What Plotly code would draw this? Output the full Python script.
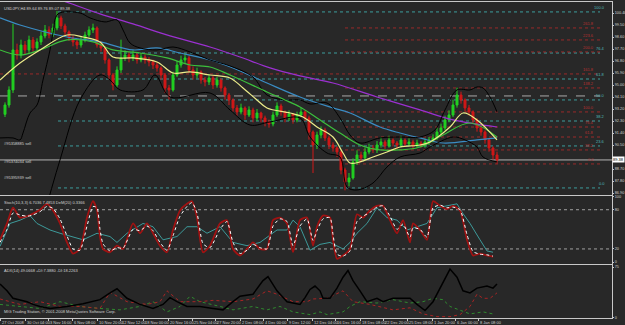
import plotly.graph_objects as go

# ---------------- data ----------------
closes = [93.50, 94.63, 97.63, 97.25, 98.00, 97.63, 98.38, 97.78, 98.23, 98.68,
          99.13, 98.75, 99.28, 100.03, 99.43, 98.98, 98.53, 98.23, 98.00, 98.38,
          98.75, 99.13, 99.28, 98.00, 97.78, 96.88, 95.75, 95.00, 96.13, 97.03,
          97.25, 97.03, 97.25, 96.88, 97.10, 96.88, 96.73, 96.50, 96.28, 95.75,
          94.78, 94.63, 95.75, 96.50, 96.88, 97.03, 96.13, 95.75, 95.98, 95.38,
          95.23, 95.53, 95.00, 95.38, 94.78, 94.25, 93.88, 93.28, 92.98, 93.28,
          92.75, 93.13, 92.53, 92.90, 92.53, 92.23, 92.08, 92.75, 93.43, 92.98,
          92.53, 92.83, 92.38, 92.75, 92.98, 92.53, 91.48, 90.50, 91.25, 91.63,
          91.03, 90.50, 90.28, 89.98, 88.63, 87.73, 88.03, 89.23, 89.75, 89.53,
          89.98, 90.28, 90.13, 90.50, 90.73, 90.43, 90.88, 90.65, 90.50, 90.88,
          90.58, 90.73, 90.43, 90.65, 90.50, 90.73, 90.88, 91.03, 91.48, 91.78,
          92.38, 92.75, 93.50, 94.25, 93.88, 93.28, 92.98, 92.38, 91.78, 91.48,
          90.88, 90.28, 89.75, 89.38]
highs = [93.70, 94.90, 99.60, 98.10, 98.40, 98.30, 98.70, 98.60, 98.50, 99.00,
         99.50, 99.40, 99.60, 100.55, 100.20, 99.60, 99.10, 98.70, 98.40, 98.60,
         99.00, 99.40, 99.60, 99.40, 98.30, 97.90, 97.00, 95.90, 96.40, 98.40,
         97.60, 97.50, 97.60, 97.40, 97.40, 97.30, 97.10, 96.90, 96.70, 96.40,
         95.90, 95.00, 96.00, 96.80, 97.20, 97.40, 97.20, 96.40, 96.30, 96.10,
         95.60, 95.80, 95.70, 95.60, 95.50, 94.90, 94.40, 94.00, 93.50, 93.60,
         93.40, 93.40, 93.30, 93.20, 93.00, 92.70, 92.40, 93.00, 93.70, 93.60,
         93.10, 93.10, 92.90, 93.00, 93.30, 93.10, 92.70, 91.60, 91.50, 91.90,
         91.80, 91.20, 90.70, 90.40, 90.10, 88.80, 88.40, 89.50, 90.10, 90.00,
         90.30, 90.60, 90.50, 90.80, 91.10, 90.90, 91.20, 91.00, 90.80, 91.20,
         91.00, 91.00, 90.90, 90.90, 90.80, 91.00, 91.10, 91.30, 91.80, 92.10,
         92.70, 93.10, 93.90, 94.80, 94.50, 94.00, 93.50, 93.10, 92.50, 92.00,
         91.60, 91.00, 90.40, 90.00]
lows = [92.60, 93.30, 94.40, 96.90, 97.00, 97.30, 97.40, 97.50, 97.60, 98.00,
        98.50, 98.50, 98.60, 99.10, 99.20, 98.70, 98.30, 97.90, 97.70, 97.80,
        98.20, 98.60, 98.90, 97.80, 97.50, 96.60, 95.40, 94.60, 94.80, 95.90,
        96.80, 96.70, 96.80, 96.60, 96.70, 96.60, 96.40, 96.20, 96.00, 95.40,
        94.40, 93.90, 94.50, 95.60, 96.30, 96.60, 95.90, 95.40, 95.50, 95.10,
        94.90, 95.00, 94.70, 94.80, 94.50, 93.90, 93.50, 93.00, 92.70, 92.80,
        92.40, 92.60, 92.20, 92.30, 92.20, 91.90, 91.80, 91.90, 92.60, 92.70,
        92.20, 92.30, 92.10, 92.20, 92.60, 92.30, 90.90, 88.40, 90.20, 91.00,
        90.80, 90.20, 90.00, 89.60, 88.30, 87.10, 87.40, 87.90, 89.00, 89.20,
        89.30, 89.80, 89.90, 89.90, 90.30, 90.20, 90.30, 90.40, 90.20, 90.30,
        90.40, 90.40, 90.20, 90.30, 90.30, 90.30, 90.50, 90.70, 90.90, 91.30,
        91.60, 92.20, 92.60, 93.30, 93.60, 93.00, 92.70, 92.10, 91.50, 91.20,
        90.60, 90.00, 89.40, 89.10]
first_open = 92.80

# moving averages / bands (bar index, price)
ma_purple_bar = [6.25, 13.75, 23.75, 32, 41.25, 51.25, 58.75, 66.25, 73.75, 82, 93, 103.75, 112, 123]
ma_purple = [101.98, 101.38, 100.33, 99.58, 98.68, 97.85, 97.10, 96.28, 95.68, 95.15, 94.10, 93.13, 92.38, 91.85]
ma_blue_bar = [-1.25, 3.75, 15.5, 23.75, 32, 38, 43.75, 51.25, 57, 65.5, 73.75, 82, 86.25, 93.75, 98.75, 103.75, 109.5, 118, 123]
ma_blue = [100.03, 99.50, 98.60, 98.23, 97.63, 97.78, 97.40, 96.88, 96.28, 95.15, 94.10, 93.28, 92.90, 91.85, 91.40, 91.03, 90.65, 90.88, 91.03]
ma_green_bar = [-1.25, 3.75, 8.75, 15.5, 22, 27, 33.75, 40.5, 46.25, 51.25, 56.25, 65.5, 70, 73.75, 78, 83.75, 88.75, 93.75, 98.75, 103.75, 109.5, 116.25, 123]
ma_green = [97.63, 97.25, 97.63, 98.38, 98.23, 97.63, 97.40, 97.03, 96.50, 96.35, 95.75, 94.48, 93.88, 93.35, 92.53, 91.40, 90.50, 90.13, 90.13, 90.35, 91.25, 92.15, 91.10]
ma_yellow_bar = [-1.25, 3.75, 8.75, 15.5, 19.5, 23.75, 27, 32, 38, 42, 46.25, 51.25, 56.25, 59.5, 63, 65.5, 71.25, 74.5, 78, 82, 84.5, 86.25, 88.75, 92, 95.5, 98.75, 103.75, 106.25, 111.25, 114.5, 118, 123]
ma_yellow = [95.38, 96.65, 97.63, 98.75, 98.60, 98.23, 97.10, 97.03, 96.73, 95.90, 95.98, 95.75, 95.53, 94.78, 93.88, 93.28, 92.90, 92.60, 91.85, 91.10, 89.90, 89.15, 89.23, 89.60, 89.98, 90.35, 90.50, 90.73, 91.85, 92.90, 92.38, 90.88]
bb_upper_bar = [-1.25, 2, 3.75, 4.5, 6.25, 8, 9.5, 11.25, 12, 13.25, 18.75, 21.25, 25, 28, 29.5, 31.25, 33.75, 38, 42, 46.25, 51.25, 56.25, 62, 65.5, 70, 73.75, 76.25, 80.5, 83.75, 86.25, 88.75, 93.75, 98.75, 103.75, 107.5, 110, 113, 116.25, 118, 119.5, 121.25, 123]
bb_upper = [91.03, 91.03, 90.88, 91.40, 92.90, 93.50, 95.38, 97.63, 98.90, 100.33, 100.40, 100.03, 99.73, 99.88, 99.13, 98.15, 97.78, 97.63, 97.85, 97.48, 96.88, 96.43, 95.60, 94.25, 93.88, 93.88, 93.58, 93.65, 92.53, 91.25, 90.65, 91.03, 91.10, 91.10, 91.63, 93.13, 94.63, 94.63, 94.85, 94.78, 94.10, 92.98]
bb_lower_bar = [8.75, 13.75, 18.75, 23.75, 26.25, 28.75, 34.5, 37.5, 41.25, 51.25, 56.25, 61.25, 66.25, 73.75, 76.25, 80.5, 83.75, 85.5, 88, 92, 95.5, 98.75, 103.75, 106.25, 112, 115, 118, 119.5, 123]
bb_lower = [84.13, 89.38, 93.88, 95.75, 95.38, 94.63, 94.63, 95.75, 94.10, 94.40, 93.13, 92.00, 92.23, 92.53, 91.10, 89.90, 89.60, 87.35, 87.13, 87.65, 88.85, 89.60, 89.90, 90.35, 91.10, 90.88, 90.35, 89.60, 89.23]

# horizontal levels (price)
teal_levels = [100.48, 97.40, 95.45, 93.88, 92.30, 90.43, 87.28]
teal_labels = ["100.0", "76.4", "61.8", "50.0", "38.2", "23.6", "0.0"]
red_levels = [99.28, 98.38, 97.48, 95.83, 94.78, 92.98, 91.85, 91.10, 90.13, 89.08]
red_labels = ["261.8", "223.6", "200.0", "161.8", "138.2", "100.0", "76.4", "61.8", "38.2", "0.0"]
dashed_level = 94.18
bid_price = 89.38

# stochastic / DeMarker
stoch_bar = [-1.25, 0.5, 2, 3.75, 5.5, 7, 8.75, 10.5, 12, 13.75, 15.5, 17, 18.75, 20.5, 22, 23, 23.75, 24.5, 26.25, 28,
             29.5, 32, 33.75, 35.5, 37, 38.75, 40.5, 42, 43.75, 45.5, 46.75, 48, 49.5, 51.25, 53.75, 55.5, 57, 58.75, 60.5, 62,
             63.75, 65.5, 67, 68.75, 70.5, 72, 73.75, 75.5, 77, 78, 79.5, 81.25, 82, 83, 84.5, 86.25, 88, 89.5, 91.25, 93,
             94.5, 96.25, 98, 99.5, 101.25, 102, 103.75, 105.5, 107, 108.75, 110.5, 112, 113.75, 115.5, 117, 118.75, 120.5, 122]
stoch_k = [34, 59, 83, 68, 70, 74, 80, 89, 79, 59, 30, 13, 20, 68, 93, 79, 39, 20, 15, 25,
           20, 59, 44, 59, 44, 25, 15, 49, 79, 89, 93, 68, 15, 25, 59, 64, 20, 10, 20, 30,
           20, 20, 64, 68, 59, 15, 64, 68, 25, 54, 71, 68, 34, 5, 10, 20, 73, 68, 79, 86,
           86, 64, 44, 64, 30, 59, 49, 34, 93, 86, 81, 86, 79, 34, 10, 13, 10, 8]
stoch_d = [30, 50, 75, 72, 70, 72, 77, 85, 82, 66, 40, 20, 18, 55, 85, 83, 50, 28, 17, 22,
           21, 50, 48, 55, 48, 30, 18, 40, 70, 85, 91, 75, 28, 22, 50, 62, 30, 13, 18, 27,
           22, 20, 55, 66, 62, 25, 55, 66, 33, 48, 66, 68, 42, 12, 9, 17, 62, 70, 76, 84,
           86, 70, 50, 58, 38, 52, 50, 38, 83, 87, 83, 84, 80, 42, 16, 12, 11, 9]
dem_bar = [-1.25, 1.25, 3.75, 6.25, 8, 9.5, 11.25, 13.75, 19.5, 23, 26.25, 28, 30.5, 34.5, 37, 39.5, 43, 45.5, 48, 50.5,
           53.75, 57, 60.5, 63.75, 68, 70.5, 72, 73.75, 76.25, 78.75, 81.25, 84.5, 86.25, 88, 90.5, 93, 95.5, 98, 100.5, 103,
           105.5, 108, 110.5, 113, 114.5, 116.25, 118.75, 120.5, 122]
dem = [24, 59, 64, 71, 59, 54, 49, 44, 34, 44, 39, 30, 44, 59, 54, 34, 39, 54, 54, 44,
       54, 30, 25, 30, 49, 49, 64, 54, 18, 27, 30, 20, 30, 44, 59, 83, 68, 64, 49, 54,
       59, 83, 86, 89, 74, 59, 34, 17, 15]

# ADX
adx_bar = [-1.25, 0.5, 2, 3.75, 5.5, 7, 8.75, 11.25, 15.5, 19.5, 23.75, 26.25, 28, 30.5, 33.75, 37, 39.5, 41.25, 43, 45.5,
           48.75, 52, 54.5, 57, 58.75, 62, 64.5, 65.75, 68, 70.5, 73.75, 75, 76.25, 77.5, 78.75, 79.5, 81.25, 83, 84.5, 85.75,
           87, 88.75, 90.5, 93, 94.5, 97, 101.25, 103, 105, 107, 108.75, 111.25, 113, 114.5, 116.25, 118, 120.5, 122, 123]
adx = [50, 40, 29, 27, 24, 20, 17, 14, 17, 21, 27, 37, 43, 29, 20, 14, 20, 30, 24, 17,
       17, 14, 12, 24, 32, 35, 55, 61, 40, 24, 20, 30, 42, 47, 40, 29, 29, 44, 60, 70,
       55, 40, 24, 29, 24, 29, 29, 20, 11, 24, 44, 72, 60, 40, 37, 44, 47, 44, 50]
minus_di_bar = [-1.25, 3.75, 8.75, 13.75, 18.75, 23.75, 26.25, 30.5, 35.5, 38.75, 40.5, 43.75, 48.75, 52, 57, 62, 65.5, 68,
                72, 75.5, 77, 80.5, 84.5, 87, 91.25, 97, 101.25, 104.5, 108, 111.25, 113.75, 116.25, 118, 119.5, 121.25, 123]
minus_di = [28, 20, 24, 17, 17, 14, 38, 24, 20, 24, 40, 24, 24, 26, 24, 28, 40, 35, 24, 24,
            28, 29, 40, 24, 20, 12, 15, 6, 2, 2, 5, 17, 35, 29, 29, 37]
plus_di_bar = [-1.25, 3.75, 8.75, 13.75, 18.75, 23.75, 28.75, 33.75, 37, 40.5, 43.75, 46.25, 48.75, 53.75, 57, 62, 65.5,
               68.75, 72, 76.25, 78.75, 80.5, 84.5, 86.25, 88.75, 93, 97, 101.25, 104.5, 107, 109.5, 111.25, 113.75, 116.25,
               119.5, 122]
plus_di = [20, 17, 14, 24, 17, 14, 12, 17, 24, 9, 17, 32, 24, 17, 12, 17, 12, 17, 9, 5,
           9, 5, 9, 17, 24, 22, 27, 22, 24, 29, 27, 17, 12, 6, 9, 6]

# price scale labels (the one hidden under the bid box is left out)
price_ticks = [100.40, 99.50, 98.60, 97.70, 96.80, 95.90, 95.00, 94.10, 93.20, 92.30,
               91.40, 90.50, 88.70, 87.80, 86.90]
time_labels = ["27 Oct 2008", "30 Oct 04:00", "3 Nov 16:00", "6 Nov 08:00", "10 Nov 20:00", "12 Nov 12:00",
               "18 Nov 00:00", "20 Nov 16:00", "25 Nov 04:00", "27 Nov 20:00", "2 Dec 08:00", "4 Dec 00:00",
               "9 Dec 12:00", "12 Dec 04:00", "16 Dec 16:00", "18 Dec 08:00", "22 Dec 20:00", "25 Dec 08:00",
               "1 Jan 20:00", "6 Jan 00:00", "8 Jan 08:00"]
time_tick_bars = [-1.25, 5, 10.75, 16.75, 23, 28.75, 34.5, 40.75, 46.75, 52.5, 58.75, 64.5, 70.5, 76.75,
                  82.5, 88.75, 94.5, 100.5, 106.75, 112.5, 118.25]

# ---------------- figure ----------------
BG = "#282828"
AX = "#c8c8c8"
TXT = "#d2d2d2"
FONT = "Liberation Sans"
TEAL = "#3c9c9c"
RED = "#9a2a2a"
FS = 4

bars = list(range(len(closes)))
opens = [first_open] + closes[:-1]
X0, X1 = -1.25, 151.75
LVL_END = 148.75

fig = go.Figure()

fig.add_trace(go.Scatter(x=ma_purple_bar, y=ma_purple, mode="lines", line=dict(color="#9b30d0", width=1.2, shape="spline")))
fig.add_trace(go.Scatter(x=ma_blue_bar, y=ma_blue, mode="lines", line=dict(color="#3a8cc4", width=1.2, shape="spline")))
fig.add_trace(go.Scatter(x=bb_upper_bar, y=bb_upper, mode="lines", line=dict(color="#000000", width=1, shape="spline")))
fig.add_trace(go.Scatter(x=bb_lower_bar, y=bb_lower, mode="lines", line=dict(color="#000000", width=1, shape="spline")))

fig.add_trace(go.Candlestick(
    x=bars, open=opens, high=highs, low=lows, close=closes,
    increasing=dict(line=dict(color="#22d022", width=1), fillcolor="#22d022"),
    decreasing=dict(line=dict(color="#d01818", width=1), fillcolor="#d01818"),
    whiskerwidth=0, xaxis="x", yaxis="y"))

fig.add_trace(go.Scatter(x=ma_green_bar, y=ma_green, mode="lines", line=dict(color="#3cc03c", width=1.2, shape="spline")))
fig.add_trace(go.Scatter(x=ma_yellow_bar, y=ma_yellow, mode="lines", line=dict(color="#ecec8a", width=1.2, shape="spline")))

fig.add_trace(go.Scatter(x=dem_bar, y=dem, mode="lines", xaxis="x2", yaxis="y2",
                         line=dict(color="#3d9a9a", width=1)))
fig.add_trace(go.Scatter(x=stoch_bar, y=stoch_k, mode="lines", xaxis="x2", yaxis="y2",
                         line=dict(color="#a01212", width=1.8, shape="spline", smoothing=0.6)))
fig.add_trace(go.Scatter(x=stoch_bar, y=stoch_d, mode="lines", xaxis="x2", yaxis="y2",
                         line=dict(color="#ffffff", width=1, dash="dot", shape="spline", smoothing=0.6)))

fig.add_trace(go.Scatter(x=plus_di_bar, y=plus_di, mode="lines", xaxis="x3", yaxis="y3",
                         line=dict(color="#2f8a2f", width=1, dash="dot")))
fig.add_trace(go.Scatter(x=minus_di_bar, y=minus_di, mode="lines", xaxis="x3", yaxis="y3",
                         line=dict(color="#a82424", width=1, dash="dot")))
fig.add_trace(go.Scatter(x=adx_bar, y=adx, mode="lines", xaxis="x3", yaxis="y3",
                         line=dict(color="#000000", width=1.5)))

shapes = []
for lv in teal_levels:
    shapes.append(dict(type="line", xref="x", yref="y", x0=13.25, x1=LVL_END, y0=lv, y1=lv,
                       line=dict(color=TEAL, width=1, dash="dot"), layer="below"))
for k, lv in enumerate(red_levels):
    start = X0 if k == 3 else 85
    shapes.append(dict(type="line", xref="x", yref="y", x0=start, x1=LVL_END, y0=lv, y1=lv,
                       line=dict(color=RED, width=1, dash="dot"), layer="below"))
shapes.append(dict(type="line", xref="x", yref="y", x0=X0, x1=LVL_END, y0=dashed_level, y1=dashed_level,
                   line=dict(color="#a8a8a8", width=1, dash="dash"), layer="below"))
shapes.append(dict(type="line", xref="x", yref="y", x0=X0, x1=X1, y0=bid_price, y1=bid_price,
                   line=dict(color="#b4b4b4", width=1), layer="below"))
for lv in (20, 80):
    shapes.append(dict(type="line", xref="x2", yref="y2", x0=X0, x1=X1, y0=lv, y1=lv,
                       line=dict(color="#a0a0a0", width=1, dash="dot"), layer="below"))

ann = []
def txt(x, y, s, xref="paper", yref="paper", color=TXT, size=FS, xanchor="left", yanchor="middle", **kw):
    ann.append(dict(x=x, y=y, xref=xref, yref=yref, text=s, showarrow=False,
                    font=dict(family=FONT, size=size, color=color),
                    xanchor=xanchor, yanchor=yanchor, **kw))

txt(0.004, 0.995, "USDJPY,H4 89.64 89.76 89.07 89.38", yanchor="top")
txt(0.004, 0.380, "Stoch(10,3,3) 6.7036 7.4853 DeM(20) 0.3366", yanchor="top")
txt(0.004, 0.164, "ADX(14) 49.0668 +DI:7.3880 -DI:18.2263", yanchor="top")
txt(0.004, 0.006, "MIG Trading Station, © 2001-2008 MetaQuotes Software Corp.", yanchor="bottom")
txt(X0 + 0.5, 90.65, "#95358885 sell", xref="x", yref="y")
txt(X0 + 0.5, 89.28, "#95374034 sell", xref="x", yref="y")
txt(X0 + 0.5, 88.03, "#95395939 sell", xref="x", yref="y")
for lv, lb in zip(teal_levels, teal_labels):
    txt(150.6, lv, lb, xref="x", yref="y", color="#4fb8b8", xanchor="right", yanchor="bottom")
for lv, lb in zip(red_levels, red_labels):
    txt(147.7, lv, lb, xref="x", yref="y", color="#b83030", xanchor="right", yanchor="bottom")
txt(1.0, bid_price, "%.2f" % bid_price, yref="y", color="#000000",
    bgcolor="#ffffff", borderpad=0)
for tb, tl in zip(time_tick_bars, time_labels):
    txt(tb, 0.0, tl, xref="x3", yref="paper", yanchor="top")

axis_common = dict(showgrid=False, zeroline=False, showline=True, linecolor=AX, linewidth=1)
yax_common = dict(side="right", ticks="outside", ticklen=1, tickcolor=AX, automargin=False,
                  tickfont=dict(family=FONT, size=3.8, color=TXT), fixedrange=True, **axis_common)

fig.update_layout(
    width=625, height=325, margin=dict(l=0, r=13, t=2, b=7),
    paper_bgcolor=BG, plot_bgcolor=BG, showlegend=False, template="none",
    xaxis=dict(domain=[0, 1], range=[X0, X1], anchor="y", mirror=True, showticklabels=False,
               rangeslider=dict(visible=False), **axis_common),
    xaxis2=dict(domain=[0, 1], range=[X0, X1], anchor="y2", matches="x", mirror=True,
                showticklabels=False, **axis_common),
    xaxis3=dict(domain=[0, 1], range=[X0, X1], anchor="y3", matches="x", mirror=True,
                showticklabels=False, ticks="outside", ticklen=2, tickcolor=AX,
                tickmode="array", tickvals=time_tick_bars, **axis_common),
    yaxis=dict(domain=[0.3892, 1.0], range=[86.75, 101.225], anchor="x",
               tickmode="array", tickvals=price_ticks, ticktext=["%.2f" % v for v in price_ticks], **yax_common),
    yaxis2=dict(domain=[0.1709, 0.3861], range=[-3, 101], anchor="x2",
                tickmode="array", tickvals=[0, 20, 80, 100], **yax_common),
    yaxis3=dict(domain=[0.0, 0.1677], range=[0, 78], anchor="x3",
                tickmode="array", tickvals=[0, 75], **yax_common),
    shapes=shapes, annotations=ann,
)

fig.write_html("out.html")
